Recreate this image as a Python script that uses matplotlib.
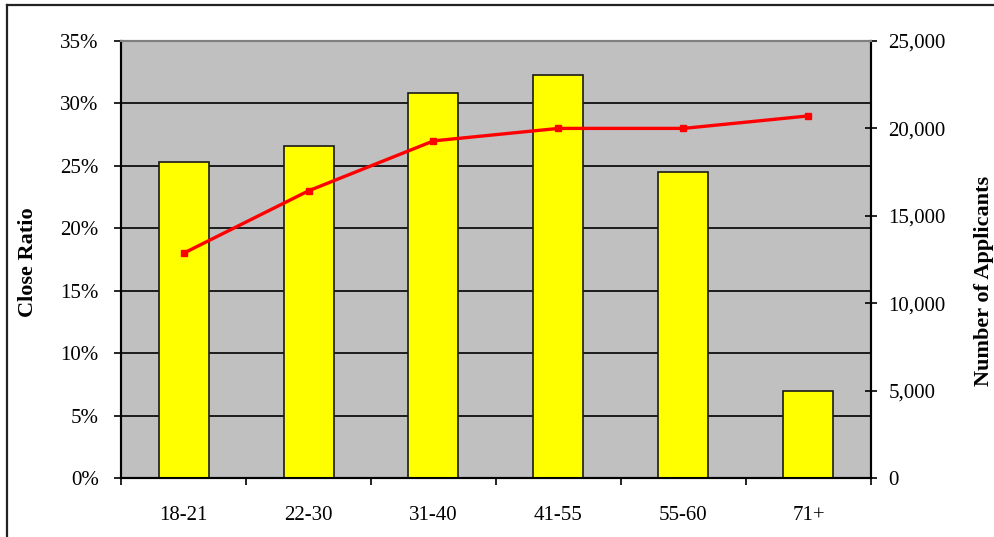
import matplotlib
matplotlib.use("Agg")
import matplotlib.pyplot as plt
from matplotlib.lines import Line2D
from matplotlib.ticker import FuncFormatter, MultipleLocator, FixedLocator
import numpy as np

# Applicants and close ratio by age band
age_bands = ["18-21", "22-30", "31-40", "41-55", "55-60", "71+"]
applicants = [18100, 19000, 22050, 23050, 17500, 5000]
close_ratio = [0.18, 0.23, 0.27, 0.28, 0.28, 0.29]

plt.rcParams["font.family"] = ["Liberation Serif", "DejaVu Serif"]

fig = plt.figure(figsize=(9.94, 5.37), dpi=100)
ax = fig.add_axes([121 / 994, 1 - 478 / 537, 750 / 994, 437 / 537])
ax2 = ax.twinx()

x = np.arange(len(age_bands))

# Plot area background and gridlines on the left (ratio) axis
ax.set_facecolor("#C0C0C0")
ax.set_ylim(0, 0.35)
ax.yaxis.set_major_locator(MultipleLocator(0.05))
ax.yaxis.set_major_formatter(FuncFormatter(lambda v, p: f"{v*100:.0f}%"))
ax.grid(axis="y", color="black", linewidth=1.2)
ax.set_axisbelow(True)
ax.set_xlim(-0.5, len(age_bands) - 0.5)

# Bars for applicants on the right axis
ax2.bar(x, applicants, width=0.4, color="#FFFF00", edgecolor="#1a1a1a",
        linewidth=1.2, zorder=2)
ax2.set_ylim(0, 25000)
ax2.yaxis.set_major_locator(MultipleLocator(5000))
ax2.yaxis.set_major_formatter(FuncFormatter(lambda v, p: f"{v:,.0f}"))

# Close ratio line, drawn above the bars but scaled by the left axis
ax2.plot(x, close_ratio, color="#FF0000", linewidth=2.4, marker="s",
         markersize=4.8, transform=ax.transData, zorder=3, clip_on=False)

# Category ticks at band boundaries, labels at band centres
ax.xaxis.set_major_locator(FixedLocator(np.arange(-0.5, len(age_bands), 1.0)))
ax.xaxis.set_minor_locator(FixedLocator(x))
ax.set_xticklabels([], minor=False)
ax.set_xticks(x, age_bands, minor=True)
ax.tick_params(axis="x", which="major", direction="out", length=5,
               width=1.2, color="black")
ax.tick_params(axis="x", which="minor", length=0, pad=20, labelsize=15)

ax.tick_params(axis="y", direction="out", length=5, width=1.2,
               pad=11, labelsize=15)
ax2.tick_params(axis="y", direction="inout", length=9, width=1.2,
                pad=8, labelsize=15)

for a in (ax, ax2):
    for side in ("left", "right", "bottom"):
        a.spines[side].set_color("black")
        a.spines[side].set_linewidth(1.5)
    a.spines["top"].set_color("#808080")
    a.spines["top"].set_linewidth(1.5)

fig.text(28 / 994, 1 - 262 / 537, "Close Ratio", rotation=90, ha="center",
         va="center", fontsize=16, fontweight="bold")
fig.text(984 / 994, 1 - 281 / 537, "Number of Applicants", rotation=90,
         ha="center", va="center", fontsize=16, fontweight="bold")

# Chart area frame along the left and top
fig.add_artist(Line2D([7 / 994, 7 / 994], [0, 1 - 5 / 537],
                      transform=fig.transFigure, color="#222222", linewidth=1.6))
fig.add_artist(Line2D([7 / 994, 1], [1 - 5 / 537, 1 - 5 / 537],
                      transform=fig.transFigure, color="#222222", linewidth=1.6))

fig.savefig("out.png", dpi=100)
